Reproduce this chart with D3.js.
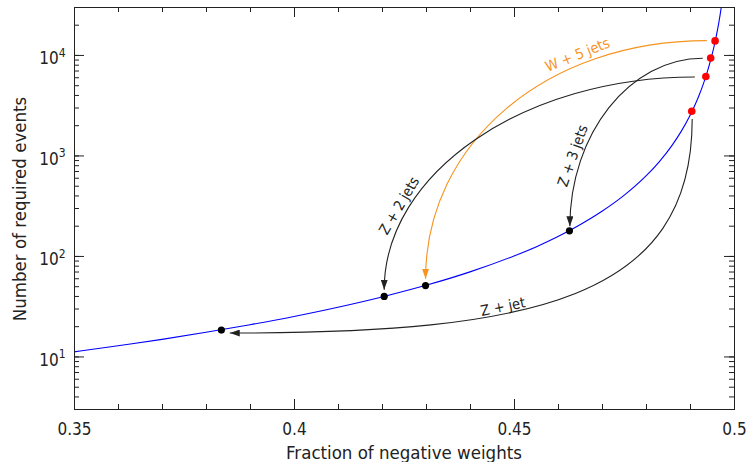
<!DOCTYPE html>
<html>
<head>
<meta charset="utf-8">
<script src="https://cdn.jsdelivr.net/npm/d3@7"></script>
<style>
  body { margin: 0; background: #fff; }
  svg text { font-family: "DejaVu Sans Condensed", "DejaVu Sans", sans-serif; font-stretch: condensed; }
</style>
</head>
<body>
<svg id="chart" width="749" height="462"></svg>
<script>
// Required number of events as a function of the negative-weight fraction
const curveFrac   = [0.35, 0.36, 0.37, 0.38, 0.39, 0.40, 0.41, 0.42, 0.43, 0.44, 0.45, 0.455, 0.46, 0.465, 0.47, 0.475, 0.48, 0.483, 0.486, 0.488, 0.49, 0.491, 0.492, 0.493, 0.494, 0.495, 0.4955, 0.496, 0.4965, 0.497, 0.4975];
const curveEvents = [11.1, 12.8, 14.8, 17.4, 20.7, 25, 30.9, 39.1, 51, 69.4, 100, 123, 156, 204, 278, 400, 625, 865, 1276, 1736, 2500, 3086, 3906, 5102, 6944, 10000, 12346, 15625, 20408, 27778, 40000];

// Processes: before (red) and after (black) the reweighting
const processNames = ["W + 5 jets", "Z + 3 jets", "Z + 2 jets", "Z + jet"];
const beforeFrac   = [0.4957, 0.4947, 0.4936, 0.4904];
const beforeEvents = [13800, 9300, 6100, 2750];
const afterFrac    = [0.4299, 0.4626, 0.4205, 0.3835];
const afterEvents  = [50.7, 178, 39.6, 18.3];

// Arrow end points
const arrowFromFrac   = [0.4938, 0.4929, 0.4911, 0.4905];
const arrowFromEvents = [13880, 9270, 6040, 2300];
const arrowToFrac     = [0.4299, 0.4627, 0.4205, 0.3854];
const arrowToEvents   = [59.3, 197, 46.1, 17.1];

// Axis ticks
const xTickValues = [0.35, 0.4, 0.45, 0.5];
const yTickValues = [10, 100, 1000, 10000];

const ink = "#222";
const orange = "#f7931e";

// Arrow styling: colour, leaving direction, control-point pulls, label placement
const arrowColor = [orange, ink, ink, ink];
const arrowOut   = ["h", "h", "h", "v"];
const bendOut    = [0.57, 0.55, 0.55, 0.84];
const bendIn     = [0.57, 0.55, 0.55, 0.66];
const labelAt    = [0.285, 0.74, 0.76, 0.635];
const labelGap   = [5, 4, 4, 2.5];

const svg = d3.select("#chart");
const x = d3.scaleLinear().domain([0.35, 0.5]).range([74, 734]);
const y = d3.scaleLog().domain([3, 30000]).range([409, 7]);

const defs = svg.append("defs");
defs.append("clipPath").attr("id", "plotArea")
  .append("rect").attr("x", 74.5).attr("y", 7.5).attr("width", 660).attr("height", 402);

function addMarker(id, color) {
  defs.append("marker")
    .attr("id", id)
    .attr("viewBox", "0 0 10 7")
    .attr("refX", 10).attr("refY", 3.5)
    .attr("markerWidth", 10).attr("markerHeight", 7)
    .attr("markerUnits", "userSpaceOnUse")
    .attr("orient", "auto")
    .append("path").attr("d", "M0,0L10,3.5L0,7Z").attr("fill", color);
}
addMarker("headBlack", ink);
addMarker("headOrange", orange);

// Blue curve
const curveData = curveFrac.map((f, i) => [f, curveEvents[i]]);
svg.append("path")
  .attr("clip-path", "url(#plotArea)")
  .attr("d", d3.line().x(d => x(d[0])).y(d => y(d[1])).curve(d3.curveMonotoneX)(curveData))
  .attr("fill", "none").attr("stroke", "#0000ff").attr("stroke-width", 1.1);

// Arrows and their labels
function bez(P, t) {
  const u = 1 - t;
  const b = [u*u*u, 3*u*u*t, 3*u*t*t, t*t*t];
  return [0, 1].map(k => b[0]*P[0][k] + b[1]*P[1][k] + b[2]*P[2][k] + b[3]*P[3][k]);
}
function bezTangent(P, t) {
  const u = 1 - t;
  return [0, 1].map(k => 3*u*u*(P[1][k]-P[0][k]) + 6*u*t*(P[2][k]-P[1][k]) + 3*t*t*(P[3][k]-P[2][k]));
}

processNames.forEach((name, i) => {
  const p0 = [x(arrowFromFrac[i]), y(arrowFromEvents[i])];
  const p3 = [x(arrowToFrac[i]), y(arrowToEvents[i])];
  const dx = p3[0] - p0[0], dy = p3[1] - p0[1];
  let c1, c2;
  if (arrowOut[i] === "h") {
    c1 = [p0[0] + bendOut[i] * dx, p0[1]];
    c2 = [p3[0], p3[1] - bendIn[i] * dy];
  } else {
    c1 = [p0[0], p0[1] + bendOut[i] * dy];
    c2 = [p3[0] - bendIn[i] * dx, p3[1]];
  }
  const P = [p0, c1, c2, p3];
  const path = d3.path();
  path.moveTo(p0[0], p0[1]);
  path.bezierCurveTo(c1[0], c1[1], c2[0], c2[1], p3[0], p3[1]);
  svg.append("path")
    .attr("d", path.toString())
    .attr("fill", "none")
    .attr("stroke", arrowColor[i])
    .attr("stroke-width", 1.1)
    .attr("marker-end", arrowColor[i] === orange ? "url(#headOrange)" : "url(#headBlack)");

  const pt = bez(P, labelAt[i]);
  const tg = bezTangent(P, labelAt[i]);
  let a = Math.atan2(tg[1], tg[0]);
  if (tg[0] < 0) a += Math.PI;
  if (a > Math.PI) a -= 2 * Math.PI;
  const nx = Math.sin(a), ny = -Math.cos(a);
  const lx = pt[0] + labelGap[i] * nx, ly = pt[1] + labelGap[i] * ny;
  svg.append("text")
    .attr("transform", `translate(${lx},${ly}) rotate(${a * 180 / Math.PI})`)
    .attr("text-anchor", "middle")
    .attr("font-size", 14.5)
    .attr("fill", arrowColor[i])
    .text(name);
});

// Points
svg.append("g").selectAll("circle")
  .data(afterFrac.map((f, i) => [f, afterEvents[i]]))
  .join("circle")
  .attr("cx", d => x(d[0])).attr("cy", d => y(d[1])).attr("r", 3.6)
  .attr("fill", "#000");
svg.append("g").selectAll("circle")
  .data(beforeFrac.map((f, i) => [f, beforeEvents[i]]))
  .join("circle")
  .attr("cx", d => x(d[0])).attr("cy", d => y(d[1])).attr("r", 3.8)
  .attr("fill", "#ff0000");

// Axes: inward ticks on all four sides
const xMinor = x.ticks(15);
const yMinor = y.ticks();
function styleAxis(g) {
  g.select(".domain").remove();
  g.selectAll(".tick line").attr("stroke", ink);
}
function drawAxis(axisFn, translate, major, minor, labelled) {
  const gMin = svg.append("g").attr("transform", translate)
    .call(axisFn.tickValues(minor).tickSizeInner(-5).tickSizeOuter(0).tickFormat(""));
  styleAxis(gMin);
  gMin.selectAll("text").remove();
  const gMaj = svg.append("g").attr("transform", translate)
    .call(axisFn.tickValues(major).tickSizeInner(-10).tickSizeOuter(0).tickFormat(labelled ? null : ""));
  styleAxis(gMaj);
  if (!labelled) gMaj.selectAll("text").remove();
  return gMaj;
}

const gx = drawAxis(d3.axisBottom(x), "translate(0,409)", xTickValues, xMinor, true);
gx.selectAll(".tick text")
  .text(d => d3.format("")(d))
  .attr("y", 26).attr("dy", 0)
  .attr("font-size", 17).attr("fill", ink);
drawAxis(d3.axisTop(x), "translate(0,7)", xTickValues, xMinor, false);

const gy = drawAxis(d3.axisLeft(y).tickPadding(8.5), "translate(74,0)", yTickValues, yMinor, true);
gy.selectAll(".tick text")
  .attr("dy", 9).attr("font-size", 17).attr("fill", ink)
  .each(function (d) {
    const t = d3.select(this);
    t.text(null);
    t.append("tspan").text("10");
    t.append("tspan").attr("dy", -7.6).attr("font-size", 12).text(Math.round(Math.log10(d)));
  });
drawAxis(d3.axisRight(y), "translate(734,0)", yTickValues, yMinor, false);

// Frame
svg.append("rect")
  .attr("x", 74.5).attr("y", 7.5).attr("width", 660).attr("height", 402)
  .attr("fill", "none").attr("stroke", ink).attr("stroke-width", 1);

// Axis titles
svg.append("text")
  .attr("x", 404).attr("y", 459)
  .attr("text-anchor", "middle").attr("font-size", 18.5).attr("fill", ink)
  .text("Fraction of negative weights");
svg.append("text")
  .attr("transform", "translate(26,209) rotate(-90)")
  .attr("text-anchor", "middle").attr("font-size", 18.5).attr("fill", ink)
  .text("Number of required events");
</script>
</body>
</html>
